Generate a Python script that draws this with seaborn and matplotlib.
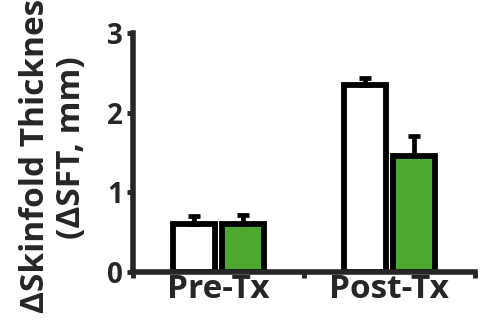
import numpy as np
import pandas as pd
import matplotlib
matplotlib.use("Agg")
import matplotlib.pyplot as plt
import seaborn as sns

# data
timepoints = ["Pre-Tx", "Post-Tx"]
groups = ["Control", "Treated"]
control_mean = [0.60, 2.34]
control_err = [0.10, 0.10]
treated_mean = [0.60, 1.45]
treated_err = [0.12, 0.25]

df = pd.DataFrame({
    "time": timepoints * 2,
    "group": [groups[0]] * 2 + [groups[1]] * 2,
    "sft": control_mean + treated_mean,
})
errs = [control_err, treated_err]

sns.set_style("ticks")
plt.rcParams["font.family"] = ["Open Sans", "DejaVu Sans"]
plt.rcParams["font.weight"] = "bold"

fig = plt.figure(figsize=(4.92, 3.26), dpi=100)
ax = fig.add_axes([0.270, 0.166, 0.695, 0.733])

sns.barplot(data=df, x="time", y="sft", hue="group", order=timepoints,
            hue_order=groups, palette=["white", "#4EA72E"], saturation=1,
            edgecolor="black", linewidth=4.2, width=0.575, gap=0.15,
            errorbar=None, legend=False, ax=ax)

# upward-only error bars
for cont, err in zip(ax.containers, errs):
    for bar, e in zip(cont, err):
        xc = bar.get_x() + bar.get_width() / 2
        ax.errorbar(xc, bar.get_height(), yerr=[[0], [e]], fmt="none",
                    ecolor="black", elinewidth=3.4, capsize=4.5, capthick=3.4, zorder=1)

ax.set_xlim(-0.5, 1.5)
ax.set_ylim(0, 3)
ax.set_yticks([0, 1, 2, 3])
ax.set_yticklabels(["0", "1", "2", "3"], fontsize=20, fontweight="bold")
ax.set_xticks([0, 1])
ax.set_xticklabels(timepoints, fontsize=24, fontweight="bold")
ax.set_xticks([-0.5, 0.5, 1.5], minor=True)
ax.tick_params(axis="x", which="major", length=0, pad=1)
ax.tick_params(axis="x", which="minor", length=4, width=3.5)
ax.tick_params(axis="y", length=4, width=3.5, pad=3)
ax.set_xlabel("")
ax.set_ylabel("ΔSkinfold Thickness\n(ΔSFT, mm)", fontsize=24, fontweight="bold",
              linespacing=1.15)
ax.yaxis.set_label_coords(-0.13, 0.52)

sns.despine(ax=ax)
for s in ["left", "bottom"]:
    ax.spines[s].set_linewidth(4)

fig.savefig("out.png", dpi=100)
